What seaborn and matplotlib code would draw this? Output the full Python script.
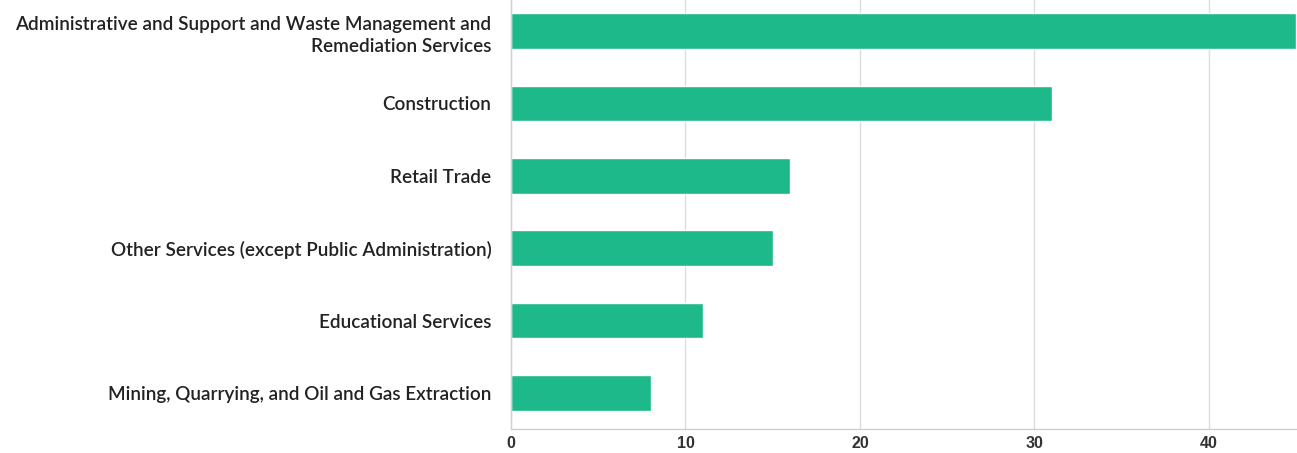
import matplotlib
matplotlib.use("Agg")
import matplotlib.pyplot as plt
import seaborn as sns
import pandas as pd

industries = [
    "Administrative and Support and Waste Management and\nRemediation Services",
    "Construction",
    "Retail Trade",
    "Other Services (except Public Administration)",
    "Educational Services",
    "Mining, Quarrying, and Oil and Gas Extraction",
]
counts = [45, 31, 16, 15, 11, 8]
x_ticks = [0, 10, 20, 30, 40]

df = pd.DataFrame({"industry": industries, "count": counts})

sns.set_theme(style="white")
plt.rcParams["font.family"] = ["Lato", "DejaVu Sans"]

fig = plt.figure(figsize=(12.97, 4.53), dpi=100)
ax = fig.add_axes([511 / 1297, 24 / 453, 785 / 1297, 434 / 453])

sns.barplot(data=df, x="count", y="industry", color="#1db98a", width=0.49,
            saturation=1, ax=ax, orient="h")

ax.set_xlim(0, 45)
ax.set_xticks(x_ticks)
ax.set_xlabel("")
ax.set_ylabel("")
ax.xaxis.grid(True, color="#dcdcdc", linewidth=1)
ax.set_axisbelow(True)
for side in ["top", "right"]:
    ax.spines[side].set_visible(False)
for side in ["left", "bottom"]:
    ax.spines[side].set_color("#d0d0d0")
    ax.spines[side].set_linewidth(1)

ax.tick_params(axis="y", length=0, pad=14, labelsize=13.6, labelcolor="#222222")
ax.tick_params(axis="x", length=0, pad=5, labelsize=11.5, labelcolor="#333333")
for lbl in ax.get_yticklabels():
    lbl.set_fontweight("semibold")
    lbl.set_linespacing(1.35)
for lbl in ax.get_xticklabels():
    lbl.set_family(["Liberation Sans", "DejaVu Sans"])
    lbl.set_fontweight("bold")

fig.savefig("out.png", dpi=100)
